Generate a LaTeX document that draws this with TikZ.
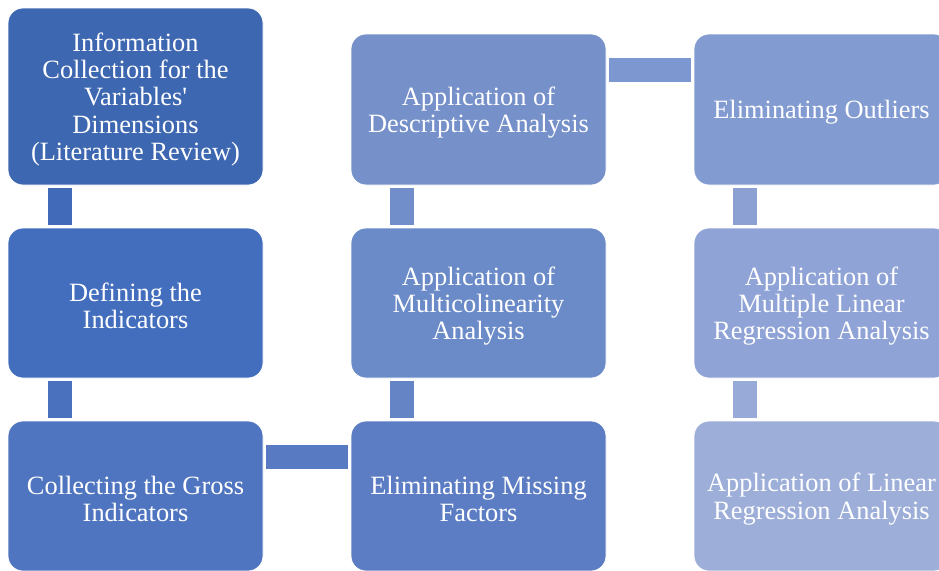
\documentclass[tikz,border=0pt]{standalone}
\usepackage{fontspec}
\setmainfont{Liberation Serif}
\newfontfamily\plainserif{Liberation Serif}
\definecolor{cA}{RGB}{62,103,177}
\definecolor{cB}{RGB}{67,110,190}
\definecolor{cC}{RGB}{80,117,192}
\definecolor{cD}{RGB}{92,125,195}
\definecolor{cE}{RGB}{106,138,200}
\definecolor{cF}{RGB}{118,144,202}
\definecolor{cG}{RGB}{130,155,209}
\definecolor{cH}{RGB}{144,163,214}
\definecolor{cI}{RGB}{157,174,217}
\definecolor{kA}{RGB}{65,106,185}
\definecolor{kB}{RGB}{74,113,190}
\definecolor{kC}{RGB}{88,122,194}
\definecolor{kD}{RGB}{100,132,198}
\definecolor{kE}{RGB}{113,141,202}
\definecolor{kF}{RGB}{125,152,208}
\definecolor{kG}{RGB}{140,160,212}
\definecolor{kH}{RGB}{152,170,216}
\tikzset{
  box/.style={rectangle, rounded corners=15pt, draw=white, line width=0.8pt,
    minimum width=255pt, inner sep=0pt},
  txt/.style={label={[text=white, align=center, inner sep=0pt, yshift=-3pt,
    font=\fontsize{26.4}{27.3}\selectfont]center:{#1}}},
  conn/.style={line width=24pt, line cap=butt, shorten <=3pt, shorten >=3pt}
}
\begin{document}
\begin{tikzpicture}[x=1pt,y=-1pt]
\useasboundingbox (0,0) rectangle (939,570);
\clip (0,0) rectangle (939,570);
% column 1
\node[box, fill=cA, minimum height=177pt,
  txt={Information\\Collection for the\\Variables{\plainserif'}\\Dimensions\\(Literature Review)}] (a1) at (135.5,96.5) {};
\node[box, fill=cB, minimum height=150pt,
  txt={Defining the\\Indicators}] (a2) at (135.5,303) {};
\node[box, fill=cC, minimum height=150pt,
  txt={Collecting the Gross\\Indicators}] (a3) at (135.5,496) {};
% column 2
\node[box, fill=cF, minimum height=151pt,
  txt={Application of\\Descriptive Analysis}] (b1) at (478.5,109.5) {};
\node[box, fill=cE, minimum height=150pt,
  txt={Application of\\Multicolinearity\\Analysis}] (b2) at (478.5,303) {};
\node[box, fill=cD, minimum height=150pt,
  txt={Eliminating Missing\\Factors}] (b3) at (478.5,496) {};
% column 3
\node[box, fill=cG, minimum height=151pt,
  txt={Eliminating Outliers}] (c1) at (821.5,109.5) {};
\node[box, fill=cH, minimum height=150pt,
  txt={Application of\\Multiple Linear\\Regression Analysis}] (c2) at (821.5,303) {};
\node[box, fill=cI, minimum height=150pt,
  txt={Application of Linear\\Regression Analysis}] (c3) at (821.5,496) {};
% connectors
\draw[conn, kA] ([xshift=52pt]a1.south west) -- ([xshift=52pt]a2.north west);
\draw[conn, kB] ([xshift=52pt]a2.south west) -- ([xshift=52pt]a3.north west);
\draw[conn, kC] ([yshift=-36.5pt]a3.north east) -- ([yshift=-36.5pt]b3.north west);
\draw[conn, kD] ([xshift=51pt]b3.north west) -- ([xshift=51pt]b2.south west);
\draw[conn, kE] ([xshift=51pt]b2.north west) -- ([xshift=51pt]b1.south west);
\draw[conn, kF] ([yshift=-36.5pt]b1.north east) -- ([yshift=-36.5pt]c1.north west);
\draw[conn, kG] ([xshift=51pt]c1.south west) -- ([xshift=51pt]c2.north west);
\draw[conn, kH] ([xshift=51pt]c2.south west) -- ([xshift=51pt]c3.north west);
\end{tikzpicture}
\end{document}
